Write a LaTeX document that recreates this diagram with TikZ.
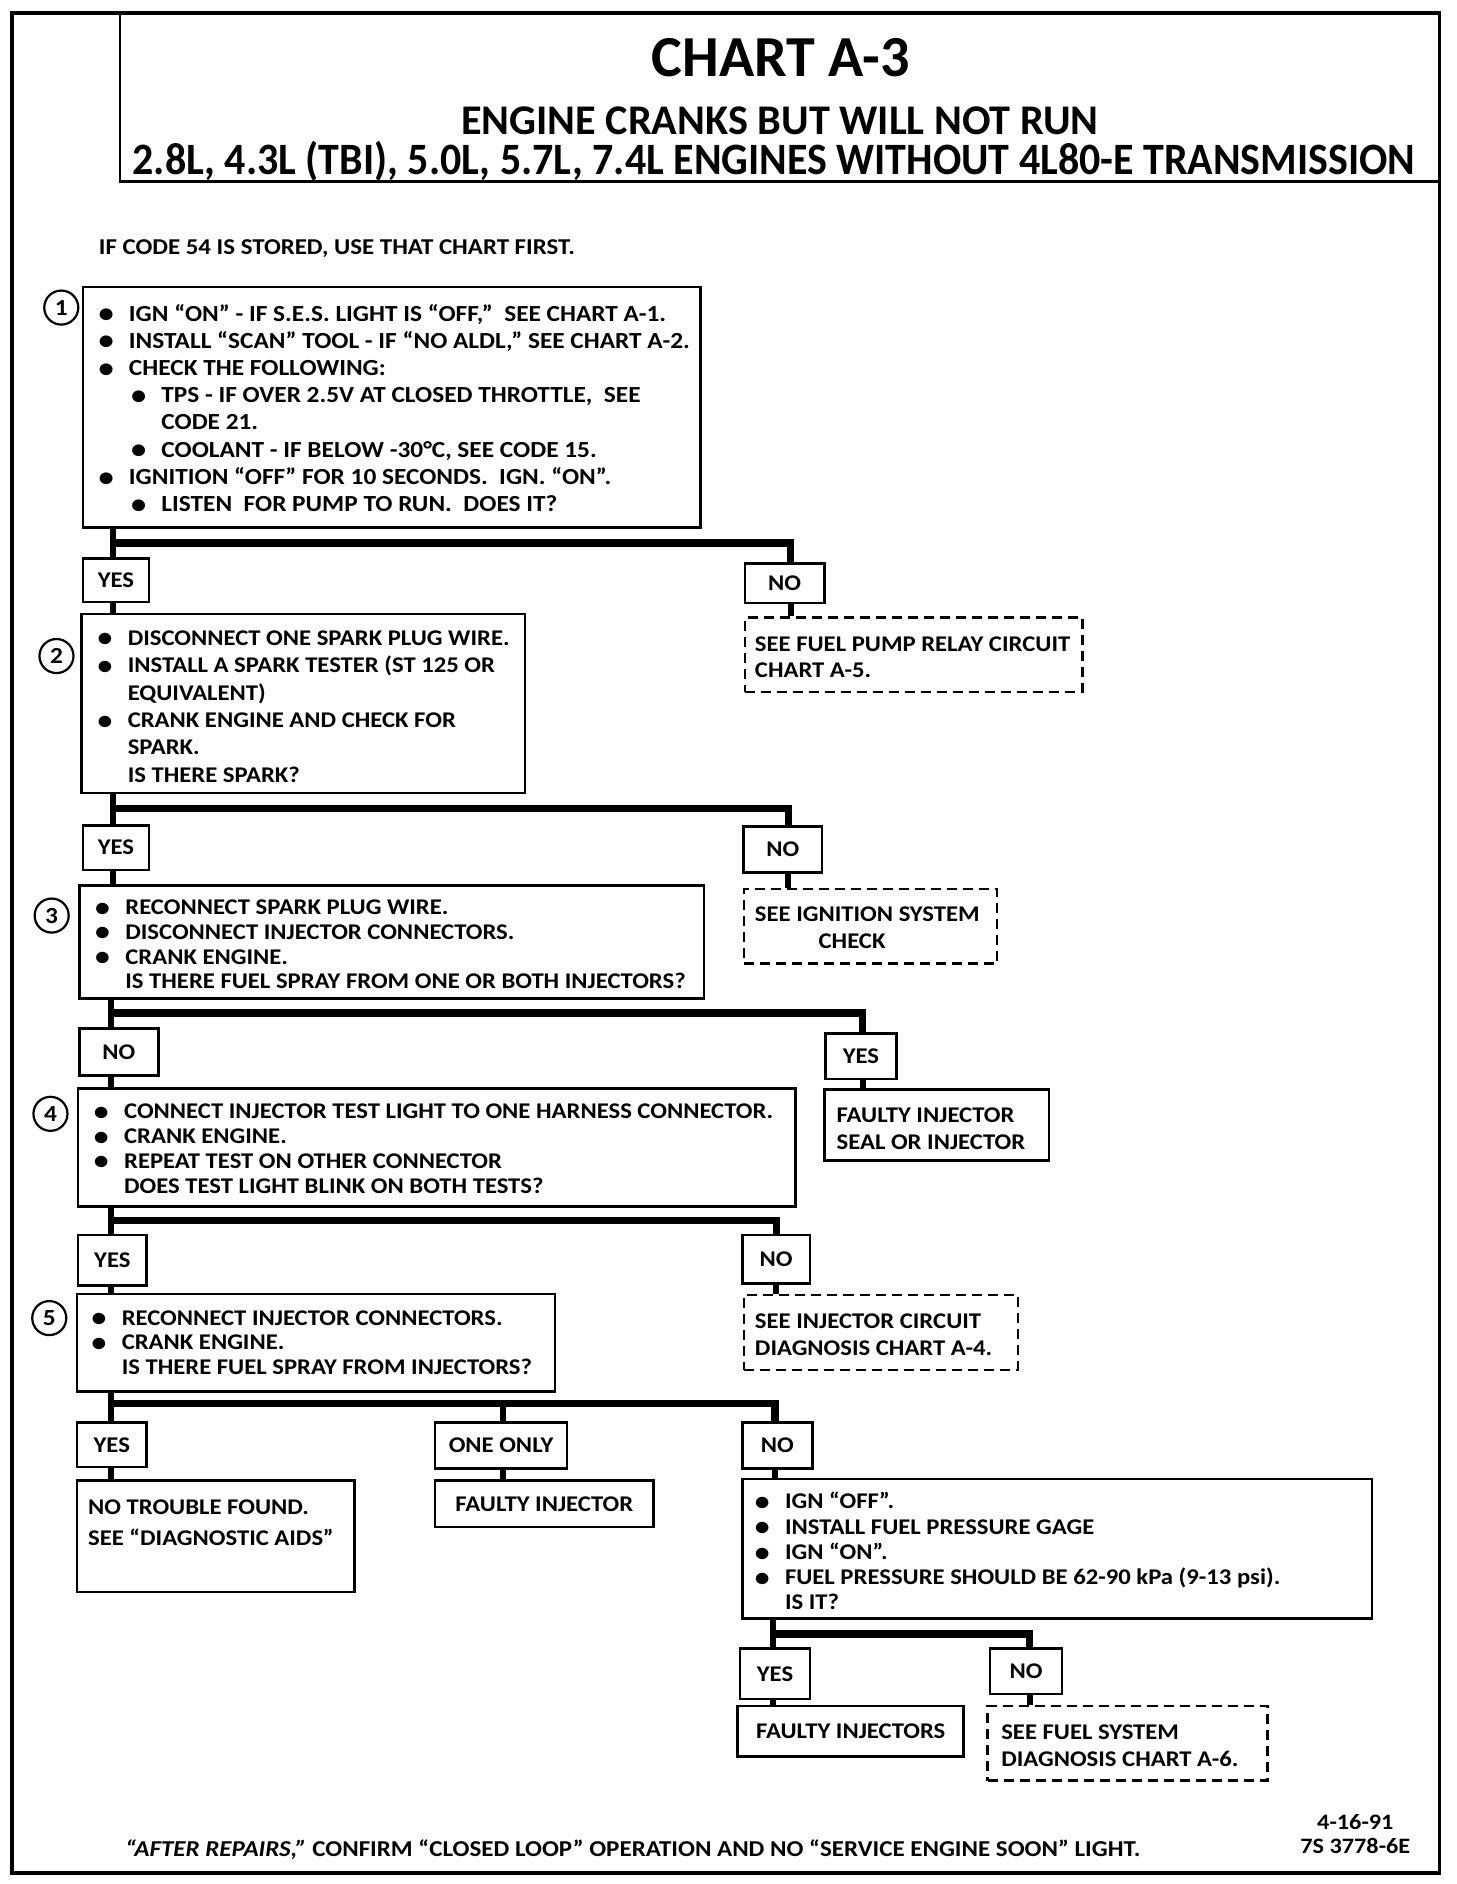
\documentclass[tikz,border=0pt]{standalone}
\usepackage{fontspec}
\usepackage{graphicx}
\setmainfont{Carlito}
\newfontfamily\bodyf{Carlito}[FakeStretch=1.1]
\newfontfamily\titlef{Carlito}
\usetikzlibrary{calc}
\newcommand\bdot{\smash{\raisebox{-0.15ex}{\scalebox{1.2}{\textbullet}}}}
\newcommand\bl[1]{\makebox[12.6pt][l]{\hspace*{-2.5pt}\bdot}#1}
\newcommand\sbl[1]{\hspace*{16.2pt}\makebox[12.6pt][l]{\hspace*{-2.5pt}\bdot}#1}
\newcommand\drawbox[7]{%
  \pgfmathsetmacro\bwd{(#5-#3)*0.6}%
  \pgfmathsetmacro\bht{(#6-#4)*0.6}%
  \node[#1, minimum width=\bwd pt, minimum height=\bht pt] (#2) at ({(#3+#5)/2},{(#4+#6)/2}) {#7};}
\begin{document}
\begin{tikzpicture}[x=0.6pt,y=-0.6pt,
  rbox/.style={draw, line width=1.3pt, inner sep=0, font=\bodyf\bfseries\fontsize{11.2}{13}\selectfont},
  dbox/.style={rbox, dash pattern=on 5pt off 3pt, line width=1.2pt},
  tbox/.style={draw, line width=1.3pt, inner sep=0},
  txt/.style={anchor=west, align=left, inner sep=0, font=\bodyf\bfseries\fontsize{11.2}{#1}\selectfont},
  circ/.style={draw, circle, line width=1.1pt, minimum size=17pt, inner sep=0, font=\bodyf\bfseries\fontsize{11.5}{12}\selectfont},
  vline/.style={line width=3pt},
  bar/.style={line width=3.6pt, line join=miter},
  ttl/.style={anchor=base, inner sep=0, font=\titlef\bfseries\fontsize{#1}{#1}\selectfont},
  ftr/.style={anchor=base west, inner sep=0, font=\bodyf\bfseries\fontsize{11.35}{13}\selectfont}]
\useasboundingbox (0,0) rectangle (1212,1568);
\fill[white] (0,0) rectangle (1212,1568);
% frame and title
\draw[line width=1.8pt] (10,11) rectangle (1198,1559);
\drawbox{tbox}{title}{100}{11}{1198}{151}{}
\node[ttl=29] (tt1) at (650,64) {CHART A-3};
\node[ttl=21.1] (tt2) at (649,112) {ENGINE CRANKS BUT WILL NOT RUN};
\node[ttl=22.4] (tt3) at (644,145) {\scalebox{0.935}[1]{2.8L, 4.3L (TBI), 5.0L, 5.7L, 7.4L ENGINES WITHOUT 4L80-E TRANSMISSION}};
\node[ftr, font=\bodyf\bfseries\fontsize{11.3}{12}\selectfont] (note) at (82,212) {IF CODE 54 IS STORED, USE THAT CHART FIRST.};
% step 1
\drawbox{rbox}{b1}{69}{239}{583}{439}{}
\node[txt=13.6pt, font=\bodyf\bfseries\fontsize{11.5}{13.6}\selectfont] (t1) at (86,339.5) {\bl{IGN “ON” - IF S.E.S. LIGHT IS “OFF,”\ \ SEE CHART A-1.}\\
\bl{INSTALL “SCAN” TOOL - IF “NO ALDL,” SEE CHART A-2.}\\
\bl{CHECK THE FOLLOWING:}\\
\sbl{TPS - IF OVER 2.5V AT CLOSED THROTTLE,\ \ SEE}\\
\hspace*{28.8pt}CODE 21.\\
\sbl{COOLANT - IF BELOW -30°C, SEE CODE 15.}\\
\bl{IGNITION “OFF” FOR 10 SECONDS.\ \ IGN. “ON”.}\\
\sbl{LISTEN\ \ FOR PUMP TO RUN.\ \ DOES IT?}};
\node[circ] (c1) at (51,256) {1};
\drawbox{rbox}{y1}{69}{465}{124}{501}{YES}
\drawbox{rbox}{n1}{620}{469}{686}{502}{NO}
\drawbox{dbox}{d1}{620}{514}{901}{576}{}
\node[txt=13.2pt] (td1) at (628,547) {SEE FUEL PUMP RELAY CIRCUIT\\CHART A-5.};
% step 2
\drawbox{rbox}{b2}{68}{511}{437}{660}{}
\node[txt=13.7pt] (t2) at (85,588) {\bl{DISCONNECT ONE SPARK PLUG WIRE.}\\
\bl{INSTALL A SPARK TESTER (ST 125 OR}\\
\hspace*{12.6pt}EQUIVALENT)\\
\bl{CRANK ENGINE AND CHECK FOR}\\
\hspace*{12.6pt}SPARK.\\
\hspace*{12.6pt}IS THERE SPARK?};
\node[circ] (c2) at (47,546) {2};
\drawbox{rbox}{y2}{69}{687}{124}{724}{YES}
\drawbox{rbox}{n2}{619}{688}{684}{726}{NO}
\drawbox{dbox}{d2}{619}{740}{830}{802}{}
\node[txt=13.2pt] (td2) at (628,772) {SEE IGNITION SYSTEM\\\hspace*{31.8pt}CHECK};
% step 3
\drawbox{rbox}{b3}{66}{737}{586}{831}{}
\node[txt=12.4pt] (t3) at (83,786) {\bl{RECONNECT SPARK PLUG WIRE.}\\
\bl{DISCONNECT INJECTOR CONNECTORS.}\\
\bl{CRANK ENGINE.}\\
\hspace*{12.6pt}IS THERE FUEL SPRAY FROM ONE OR BOTH INJECTORS?};
\node[circ] (c3) at (43,762) {3};
\drawbox{rbox}{n3}{66}{856}{132}{895}{NO}
\drawbox{rbox}{y3}{687}{860}{746}{898}{YES}
\drawbox{rbox}{f1}{686}{907}{873}{966}{}
\node[txt=13.8pt] (tf1) at (696,939.5) {FAULTY INJECTOR\\SEAL OR INJECTOR};
% step 4
\drawbox{rbox}{b4}{65}{906}{662}{1004}{}
\node[txt=12.4pt] (t4) at (82,956) {\bl{CONNECT INJECTOR TEST LIGHT TO ONE HARNESS CONNECTOR.}\\
\bl{CRANK ENGINE.}\\
\bl{REPEAT TEST ON OTHER CONNECTOR}\\
\hspace*{12.6pt}DOES TEST LIGHT BLINK ON BOTH TESTS?};
\node[circ] (c4) at (42,927) {4};
\drawbox{rbox}{y4}{65}{1028}{122}{1070}{YES}
\drawbox{rbox}{n4}{618}{1028}{674}{1068}{NO}
\drawbox{dbox}{d4}{619}{1078}{847}{1140}{}
\node[txt=13.2pt] (td4) at (628,1111) {SEE INJECTOR CIRCUIT\\DIAGNOSIS CHART A-4.};
% step 5
\drawbox{rbox}{b5}{64}{1077}{462}{1158}{}
\node[txt=12.3pt] (t5) at (80,1117.5) {\bl{RECONNECT INJECTOR CONNECTORS.}\\
\bl{CRANK ENGINE.}\\
\hspace*{12.6pt}IS THERE FUEL SPRAY FROM INJECTORS?};
\node[circ] (c5) at (41,1097) {5};
\drawbox{rbox}{y5}{64}{1184}{122}{1221}{YES}
\drawbox{rbox}{o5}{362}{1184}{472}{1222}{ONE ONLY}
\drawbox{rbox}{n5}{618}{1184}{676}{1222}{NO}
\drawbox{rbox}{f2}{64}{1232}{295}{1325}{}
\node[txt=15.6pt] (tf2) at (73,1267) {NO TROUBLE FOUND.\\SEE “DIAGNOSTIC AIDS”};
\drawbox{rbox}{f3}{362}{1232}{544}{1271}{FAULTY INJECTOR}
\drawbox{rbox}{b6}{618}{1231}{1142}{1347}{}
\node[txt=12.6pt] (t6) at (632,1291) {\bl{IGN “OFF”.}\\
\bl{INSTALL FUEL PRESSURE GAGE}\\
\bl{IGN “ON”.}\\
\bl{FUEL PRESSURE SHOULD BE 62-90 kPa (9-13 psi).}\\
\hspace*{12.6pt}IS IT?};
% step 6
\drawbox{rbox}{y6}{616}{1372}{674}{1414}{YES}
\drawbox{rbox}{n6}{824}{1372}{884}{1410}{NO}
\drawbox{rbox}{f4}{614}{1420}{802}{1462}{FAULTY INJECTORS}
\drawbox{dbox}{d6}{822}{1420}{1055}{1482}{}
\node[txt=13.2pt] (td6) at (833,1453) {SEE FUEL SYSTEM\\DIAGNOSIS CHART A-6.};
% connectors
\coordinate (j1) at (94,452);
\coordinate (k1) at (658,452);
\draw[vline] (b1.south -| j1) -- (y1.north -| j1);
\draw[bar] (j1) -- (k1) -- (n1.north -| k1);
\draw[vline] (y1.south -| j1) -- (b2.north -| j1);
\draw[vline] (n1.south -| k1) -- (d1.north -| k1);
\coordinate (j2) at (94,673);
\coordinate (k2) at (656,673);
\draw[vline] (b2.south -| j2) -- (y2.north -| j2);
\draw[bar] (j2) -- (k2) -- (n2.north -| k2);
\draw[vline] (y2.south -| j2) -- (b3.north -| j2);
\draw[vline] (n2.south -| k2) -- (d2.north -| k2);
\coordinate (j3) at (92,843);
\coordinate (k3) at (718,843);
\draw[vline] (b3.south -| j3) -- (n3.north -| j3);
\draw[bar] (j3) -- (k3) -- (y3.north -| k3);
\draw[vline] (n3.south -| j3) -- (b4.north -| j3);
\draw[vline] (y3.south -| k3) -- (f1.north -| k3);
\coordinate (j4) at (92,1016);
\coordinate (k4) at (646,1016);
\draw[vline] (b4.south -| j4) -- (y4.north -| j4);
\draw[bar] (j4) -- (k4) -- (n4.north -| k4);
\draw[vline] (y4.south -| j4) -- (b5.north -| j4);
\draw[vline] (n4.south -| k4) -- (d4.north -| k4);
\coordinate (j5) at (92,1168);
\coordinate (m5) at (419,1168);
\coordinate (k5) at (645,1168);
\draw[vline] (b5.south -| j5) -- (y5.north -| j5);
\draw[bar] (j5) -- (k5) -- (n5.north -| k5);
\draw[vline] (m5) -- (o5.north -| m5);
\draw[vline] (y5.south -| j5) -- (f2.north -| j5);
\draw[vline] (o5.south -| m5) -- (f3.north -| m5);
\draw[vline] (n5.south -| k5) -- (b6.north -| k5);
\coordinate (j6) at (643,1360);
\coordinate (k6) at (857,1360);
\draw[vline] (b6.south -| j6) -- (y6.north -| j6);
\draw[bar] (j6) -- (k6) -- (n6.north -| k6);
\draw[vline] (y6.south -| j6) -- (f4.north -| j6);
\draw[vline] (n6.south -| k6) -- (d6.north -| k6);
% footer
\node[ftr] (foot) at (104,1545) {\textit{“AFTER REPAIRS,”} CONFIRM “CLOSED LOOP” OPERATION AND NO “SERVICE ENGINE SOON” LIGHT.};
\node[anchor=base, inner sep=0, font=\bodyf\bfseries\fontsize{11}{13}\selectfont] (date) at (1128,1523) {4-16-91};
\node[anchor=base, inner sep=0, font=\bodyf\bfseries\fontsize{11}{13}\selectfont] (code) at (1128,1543) {7S 3778-6E};
\end{tikzpicture}
\end{document}
